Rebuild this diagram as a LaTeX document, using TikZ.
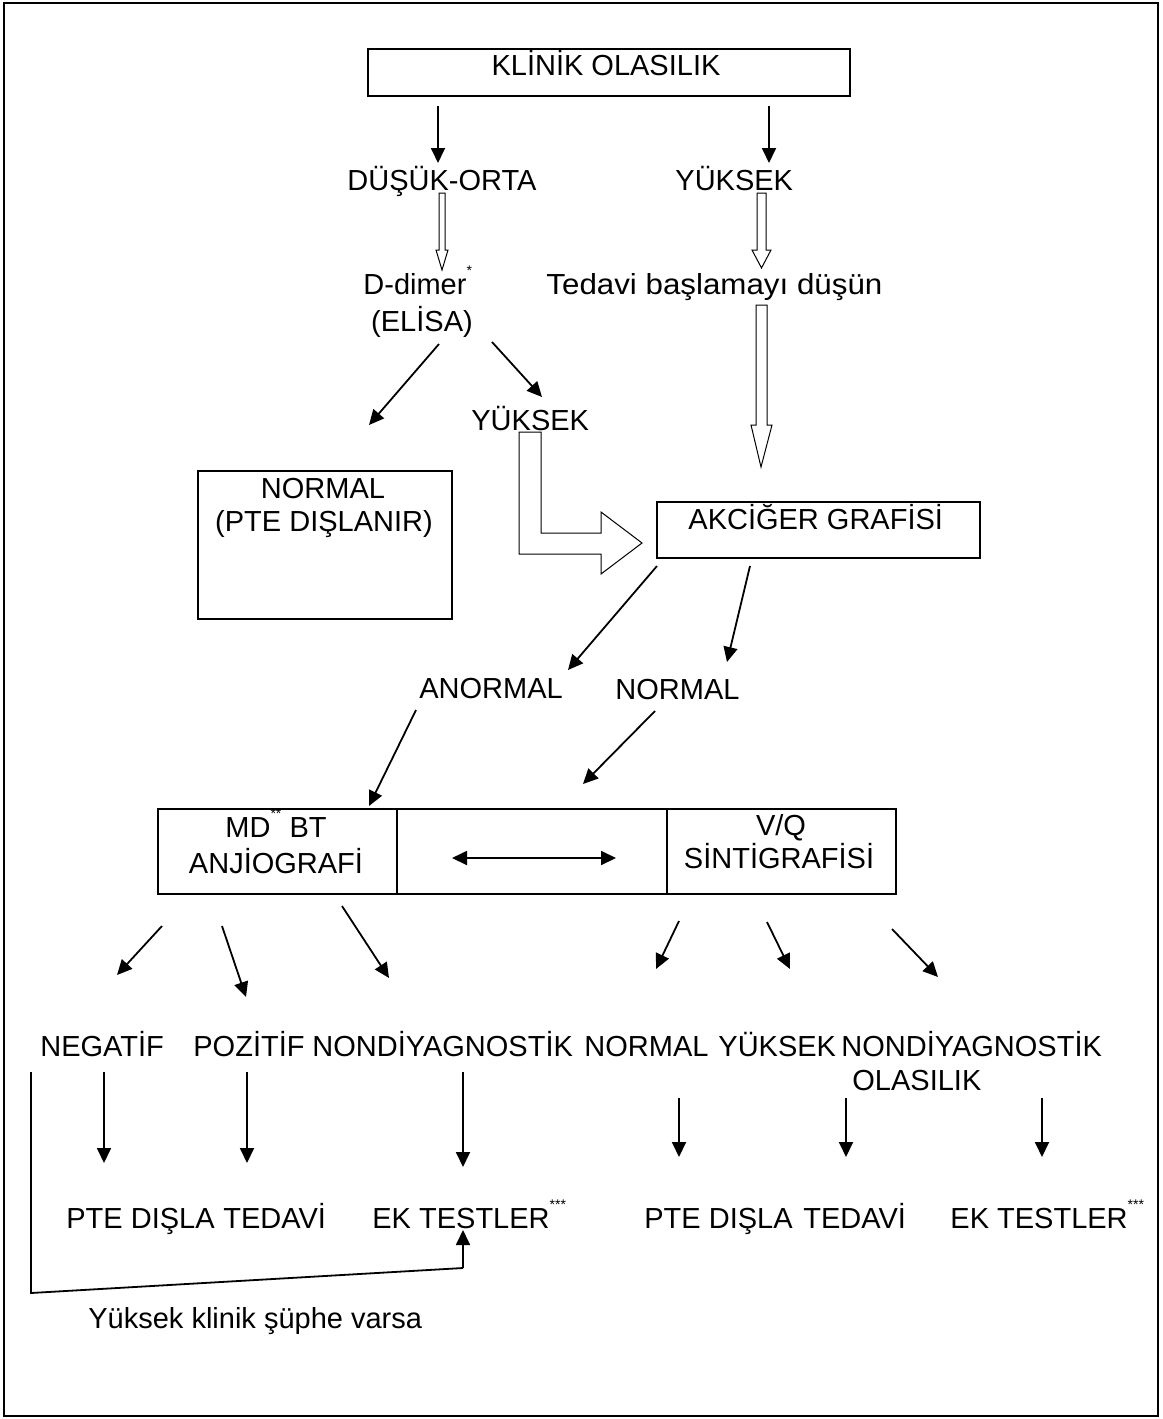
\documentclass[tikz,border=0pt]{standalone}
\usepackage{graphicx}
\usepackage{fontspec}
\setmainfont{Liberation Sans}
\usetikzlibrary{arrows.meta}
\newcommand{\myast}[1]{\raisebox{9.3pt}{\fontsize{7pt}{7pt}\selectfont #1}}
\begin{document}
\begin{tikzpicture}[x=0.5pt,y=-0.5pt,
  txt/.style={inner sep=0pt, font=\fontsize{14.5pt}{17pt}\selectfont},
  bx/.style={draw, line width=0.85pt, inner sep=0pt, anchor=north west},
  arr/.style={line width=0.9pt, -{Triangle[length=7.5pt,width=7pt]}},
  plainline/.style={line width=0.9pt},
  hollow/.style={draw, line width=0.5pt, fill=white, line join=miter},
  frame/.style={draw, line width=1pt}
]
\useasboundingbox (0,0) rectangle (1162,1419);
\draw[frame] (4,3) rectangle (1158,1416);

% boxes
\node[bx, minimum width=241pt, minimum height=23.5pt] (bklinik) at (367,48) {};
\node[bx, minimum width=127pt, minimum height=74pt] (bnormal) at (197,470) {};
\node[bx, minimum width=161.5pt, minimum height=28pt] (bakc) at (656,501) {};
\node[bx, minimum width=119.5pt, minimum height=42.5pt] (bmd) at (157,808) {};
\node[bx, minimum width=135pt, minimum height=42.5pt] (bmid) at (396,808) {};
\node[bx, minimum width=114.5pt, minimum height=42.5pt] (bvq) at (666,808) {};

% texts
\node[txt, anchor=base] (tklinik) at (606,75) {KLİNİK OLASILIK};
\node[txt, anchor=base west] (tdusuk) at (347,190) {DÜŞÜK-ORTA};
\node[txt, anchor=base west] (tyuksekA) at (675,190) {YÜKSEK};
\node[txt, anchor=base west] (tddimer) at (363,294) {D-dimer\myast{*}};
\node[txt, anchor=base] (telisa) at (422,331) {(ELİSA)};
\node[txt, anchor=base west] (ttedavi) at (546,294) {\scalebox{1.08}[1]{Tedavi başlamayı düşün}};
\node[txt, anchor=base west] (tyuksekB) at (471,430) {YÜKSEK};
\node[txt, anchor=base] (tnormalA) at (323,498) {NORMAL};
\node[txt, anchor=base] (tpte) at (324,531) {(PTE DIŞLANIR)};
\node[txt, anchor=base west] (takc) at (688,529) {AKCİĞER GRAFİSİ};
\node[txt, anchor=base west] (tanormal) at (419,698) {ANORMAL};
\node[txt, anchor=base west] (tnormalB) at (615,699) {NORMAL};
\node[txt, anchor=base] (tmdbt) at (276,837) {MD\myast{**} BT};
\node[txt, anchor=base] (tanjio) at (276,873) {ANJİOGRAFİ};
\node[txt, anchor=base] (tvq) at (781,835) {V/Q};
\node[txt, anchor=base] (tsinti) at (779,868) {SİNTİGRAFİSİ};

\node[txt, anchor=base west] (tneg) at (40,1056) {NEGATİF};
\node[txt, anchor=base west] (tpoz) at (193,1056) {POZİTİF};
\node[txt, anchor=base west] (tnondA) at (312,1056) {NONDİYAGNOSTİK};
\node[txt, anchor=base west] (tnormalC) at (584,1056) {NORMAL};
\node[txt, anchor=base west] (tyuksekC) at (718,1056) {YÜKSEK};
\node[txt, anchor=base west] (tnondB) at (841,1056) {NONDİYAGNOSTİK};
\node[txt, anchor=base west] (tolas) at (852,1090) {OLASILIK};

\node[txt, anchor=base west] (tpteA) at (66,1228) {PTE DIŞLA};
\node[txt, anchor=base west] (ttedA) at (223,1228) {TEDAVİ};
\node[txt, anchor=base west] (tekA) at (372,1228) {EK TESTLER\myast{***}};
\node[txt, anchor=base west] (tpteB) at (644,1228) {PTE DIŞLA};
\node[txt, anchor=base west] (ttedB) at (803,1228) {TEDAVİ};
\node[txt, anchor=base west] (tekB) at (950,1228) {EK TESTLER\myast{***}};
\node[txt, anchor=base west] (tsuphe) at (88,1328) {Yüksek klinik şüphe varsa};

% connector end points
\coordinate (a1s) at (438,106); \coordinate (a1e) at (438,163);
\coordinate (a2s) at (769,106); \coordinate (a2e) at (769,163);
\coordinate (d1s) at (439,344); \coordinate (d1e) at (369,425);
\coordinate (d2s) at (492,342); \coordinate (d2e) at (542,397);
\coordinate (k1s) at (657,566); \coordinate (k1e) at (568,670);
\coordinate (k2s) at (750,566); \coordinate (k2e) at (727,662);
\coordinate (n1s) at (416,710); \coordinate (n1e) at (369,806);
\coordinate (n2s) at (655,711); \coordinate (n2e) at (583,784);
\coordinate (dbl1) at (452,858); \coordinate (dbl2) at (616,858);
\coordinate (b1s) at (162,926); \coordinate (b1e) at (117,975);
\coordinate (b2s) at (222,926); \coordinate (b2e) at (246,997);
\coordinate (b3s) at (342,906); \coordinate (b3e) at (389,978);
\coordinate (b4s) at (679,921); \coordinate (b4e) at (656,969);
\coordinate (b5s) at (767,922); \coordinate (b5e) at (790,969);
\coordinate (b6s) at (892,929); \coordinate (b6e) at (938,977);
\coordinate (v1s) at (104,1072); \coordinate (v1e) at (104,1163);
\coordinate (v2s) at (247,1072); \coordinate (v2e) at (247,1163);
\coordinate (v3s) at (463,1072); \coordinate (v3e) at (463,1167);
\coordinate (v4s) at (679,1098); \coordinate (v4e) at (679,1157);
\coordinate (v5s) at (846,1098); \coordinate (v5e) at (846,1157);
\coordinate (v6s) at (1042,1098); \coordinate (v6e) at (1042,1157);
\coordinate (q1) at (31,1072); \coordinate (q2) at (31,1293);
\coordinate (q3) at (463,1268); \coordinate (q4) at (463,1230);

% arrows
\draw[arr] (a1s) -- (a1e);
\draw[arr] (a2s) -- (a2e);
\draw[arr] (d1s) -- (d1e);
\draw[arr] (d2s) -- (d2e);
\draw[arr] (k1s) -- (k1e);
\draw[arr] (k2s) -- (k2e);
\draw[arr] (n1s) -- (n1e);
\draw[arr] (n2s) -- (n2e);
\draw[line width=0.9pt, {Triangle[length=7.5pt,width=7pt]}-{Triangle[length=7.5pt,width=7pt]}] (dbl1) -- (dbl2);
\foreach \i in {1,...,6} {\draw[arr] (b\i s) -- (b\i e);}
\foreach \i in {1,...,6} {\draw[arr] (v\i s) -- (v\i e);}
\draw[plainline] (q1) -- (q2) -- (q3);
\draw[arr] (q3) -- (q4);

% hollow arrows
\draw[hollow] (439,193) -- (445,193) -- (445,250) -- (448,250) -- (442,270) -- (436,250) -- (439,250) -- cycle;
\draw[hollow] (757,193) -- (766,193) -- (766,250) -- (771,250) -- (761.5,268) -- (752,250) -- (757,250) -- cycle;
\draw[hollow] (758,305) -- (767,305) -- (767,425) -- (772,425) -- (761,467) -- (751,425) -- (756,425) -- (756,305) -- cycle;
\draw[hollow] (519,432) -- (541,432) -- (541,533) -- (601,533) -- (601,512) -- (642,543) -- (601,574) -- (601,554) -- (519,554) -- cycle;
\end{tikzpicture}
\end{document}
